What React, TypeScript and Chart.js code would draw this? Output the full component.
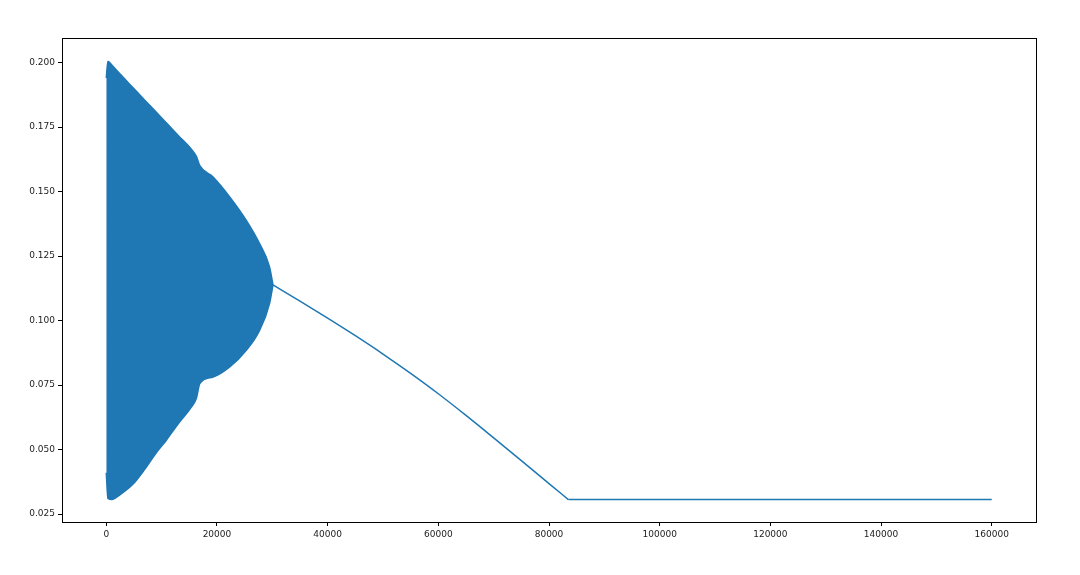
import React, { useEffect, useRef } from "react";
import { Chart, registerables } from "chart.js";

Chart.register(...registerables);

// Oscillating region envelope (x positions, upper and lower bounds)
const bandX = [0, 300, 1000, 2500, 4800, 7000, 9000, 10850, 13000, 15400, 16300, 16900, 19300, 22300, 25300, 27700, 29500, 30130];
const bandUpper = [0.194, 0.2005, 0.199, 0.1955, 0.1903, 0.1853, 0.1808, 0.1766, 0.1717, 0.1663, 0.1635, 0.16, 0.1556, 0.1479, 0.1388, 0.1298, 0.1208, 0.1138];
const bandLower = [0.041, 0.031, 0.0306, 0.0325, 0.0365, 0.0425, 0.0486, 0.0536, 0.06, 0.0665, 0.07, 0.0756, 0.0781, 0.082, 0.0885, 0.0962, 0.1066, 0.1138];

// Settled tail: decaying curve, then flat
const decayX = [30130, 35000, 40000, 45000, 50000, 55000, 60000, 65000, 70000, 75000, 80000, 83500];
const decayY = [0.1138, 0.1075, 0.1009, 0.0941, 0.087, 0.0795, 0.0716, 0.0632, 0.0545, 0.0457, 0.0368, 0.0306];
const flatX = [83500, 160000];
const flatY = [0.0306, 0.0306];

const xTicks = [0, 20000, 40000, 60000, 80000, 100000, 120000, 140000, 160000];
const yTicks = [0.025, 0.05, 0.075, 0.1, 0.125, 0.15, 0.175, 0.2];

const BLUE = "#1f77b4";

export default function App() {
  const ref = useRef<HTMLCanvasElement | null>(null);
  useEffect(() => {
    document.body.style.margin = "0";
    const ctx = ref.current!;
    const boxPlugin = {
      id: "box",
      afterDraw(chart: any) {
        const { left, right, top, bottom } = chart.chartArea;
        const c = chart.ctx;
        c.save();
        c.strokeStyle = "#000";
        c.lineWidth = 1;
        c.strokeRect(Math.round(left) + 0.5, Math.round(top) + 0.5, Math.round(right - left), Math.round(bottom - top));
        c.restore();
      },
    };
    const line = (xs: number[], ys: number[], extra: any = {}) => ({
      data: xs.map((x, i) => ({ x, y: ys[i] })),
      borderColor: BLUE,
      backgroundColor: BLUE,
      borderWidth: 1.5,
      pointRadius: 0,
      fill: false,
      cubicInterpolationMode: "monotone",
      ...extra,
    });
    const chart = new Chart(ctx, {
      type: "line",
      data: {
        datasets: [
          line(bandX, bandUpper, { fill: "+1" }),
          line(bandX, bandLower),
          line(decayX, decayY),
          line(flatX, flatY, { cubicInterpolationMode: "default", tension: 0 }),
        ],
      },
      options: {
        responsive: false,
        animation: false,
        plugins: { legend: { display: false }, tooltip: { enabled: false } },
        layout: { padding: { top: 38, right: 44, left: 0, bottom: 0 } },
        scales: {
          x: {
            type: "linear",
            min: -8000,
            max: 168000,
            afterBuildTicks: (s: any) => {
              s.ticks = xTicks.map((v) => ({ value: v }));
            },
            afterFit: (s: any) => {
              s.height = 53;
            },
            grid: { display: true, drawOnChartArea: false, drawTicks: true, tickLength: 4, color: "#000" },
            border: { display: true, color: "#000" },
            ticks: {
              color: "#222",
              font: { family: "DejaVu Sans", size: 9 },
              padding: 3,
              maxRotation: 0,
              callback: (v: any) => String(v),
            },
          },
          y: {
            type: "linear",
            min: 0.0219,
            max: 0.2095,
            afterBuildTicks: (s: any) => {
              s.ticks = yTicks.map((v) => ({ value: v }));
            },
            afterFit: (s: any) => {
              s.width = 62;
            },
            grid: { display: true, drawOnChartArea: false, drawTicks: true, tickLength: 4, color: "#000" },
            border: { display: true, color: "#000" },
            ticks: {
              color: "#222",
              font: { family: "DejaVu Sans", size: 9 },
              padding: 3,
              callback: (v: any) => Number(v).toFixed(3),
            },
          },
        },
      },
      plugins: [boxPlugin],
    });
    return () => chart.destroy();
  }, []);
  return <canvas ref={ref} width={1080} height={575} style={{ display: "block" }} />;
}
